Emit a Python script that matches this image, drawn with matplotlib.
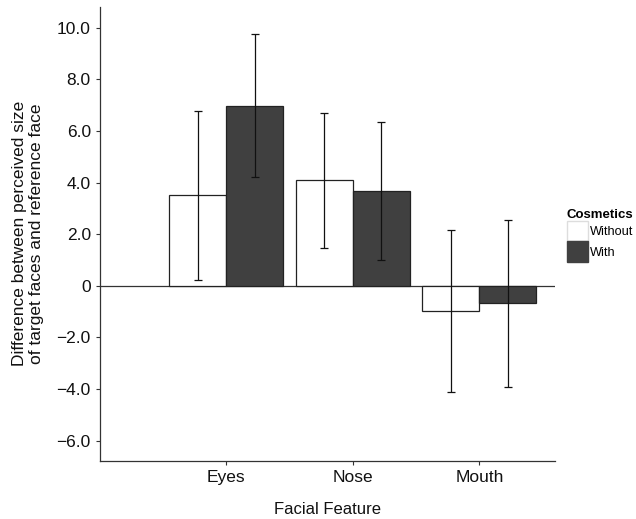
import numpy as np
import matplotlib
matplotlib.use("Agg")
from matplotlib import pyplot as plt
from matplotlib.patches import Patch

plt.rcParams['font.family'] = ['Liberation Sans', 'DejaVu Sans']

features = ["Eyes", "Nose", "Mouth"]
groups = ["Without", "With"]
without_mean = [3.52, 4.10, -0.96]
without_low = [0.23, 1.48, -4.10]
without_high = [6.79, 6.69, 2.18]
with_mean = [6.98, 3.67, -0.68]
with_low = [4.23, 1.00, -3.90]
with_high = [9.76, 6.33, 2.56]
yticks = [-6, -4, -2, 0, 2, 4, 6, 8, 10]
ytick_labels = ["\u22126.0", "\u22124.0", "\u22122.0", "0", "2.0", "4.0", "6.0", "8.0", "10.0"]

fig = plt.figure(figsize=(6.36, 5.19), dpi=100)
ax = fig.add_axes([0.157, 0.112, 0.716, 0.875])

x = np.arange(1, len(features) + 1)
w = 0.45
colors = ["white", "#404040"]
for i, (m, lo, hi) in enumerate([(without_mean, without_low, without_high),
                                 (with_mean, with_low, with_high)]):
    pos = x + (i - 0.5) * w
    ax.bar(pos, m, width=w, color=colors[i], edgecolor="#222222", linewidth=0.9, zorder=2)
    m = np.array(m)
    err = [m - np.array(lo), np.array(hi) - m]
    ax.errorbar(pos, m, yerr=err, fmt="none", ecolor="#111111", elinewidth=0.9,
                capsize=3, capthick=0.9, zorder=3)

ax.axhline(0, color="#333333", linewidth=0.9, zorder=1)

ax.set_xlim(0, 3.6)
ax.set_ylim(-6.78, 10.81)
ax.set_yticks(yticks)
ax.set_yticklabels(ytick_labels)
ax.set_xticks(x)
ax.set_xticklabels(features)

for s in ["top", "right"]:
    ax.spines[s].set_visible(False)
for s in ["left", "bottom"]:
    ax.spines[s].set_color("#333333")
    ax.spines[s].set_linewidth(0.9)
ax.tick_params(axis="both", colors="#333333", length=3, width=0.8, labelsize=12.5,
               labelcolor="#111111")

ax.set_ylabel("Difference between perceived size\nof target faces and reference face",
              fontsize=12.5, labelpad=9, color="#111111")
ax.set_xlabel("Facial Feature", fontsize=12, labelpad=12, color="#111111")

handles = [Patch(facecolor=colors[i], edgecolor="#dddddd" if i == 0 else colors[i], label=g)
           for i, g in enumerate(groups)]
leg = fig.legend(handles=handles, title="Cosmetics", loc="upper left",
                 bbox_to_anchor=(0.891, 0.598), frameon=False, fontsize=9.2,
                 handlelength=1.65, handleheight=2.1, handletextpad=0.2,
                 borderaxespad=0, labelspacing=0.0, borderpad=0)
leg.get_title().set_fontweight("bold")
leg.get_title().set_fontsize(9.5)
leg._legend_box.align = "left"

fig.savefig("out.png", dpi=100)
